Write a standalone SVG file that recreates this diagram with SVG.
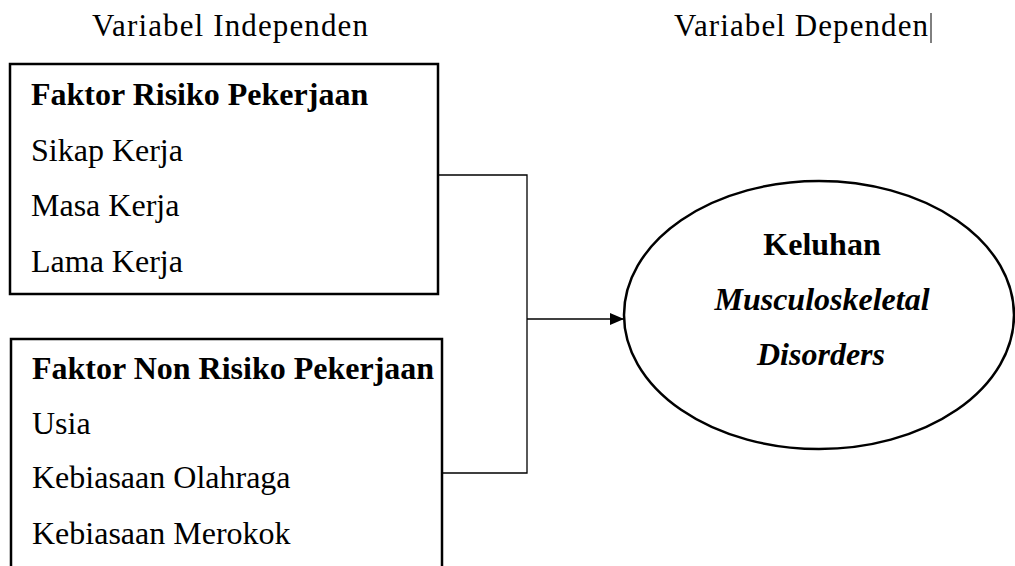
<svg xmlns="http://www.w3.org/2000/svg" width="1015" height="566" viewBox="0 0 1015 566">
<defs>
<style>
text{font-family:"Liberation Serif","Times New Roman",serif;font-size:32px;fill:#000}
.h{font-size:31px}
.b{font-weight:bold}
.bi{font-weight:bold;font-style:italic}
.c{text-anchor:middle}
.box{fill:#fff;stroke:#000;stroke-width:2.5}
.con{fill:none;stroke:#000;stroke-width:1.3}
</style>
<marker id="arr" markerWidth="14" markerHeight="12" refX="14" refY="6" orient="auto" markerUnits="userSpaceOnUse">
<path d="M0,0 L14,6 L0,12 Z" fill="#000"/>
</marker>
</defs>
<rect width="1015" height="566" fill="#fff"/>
<g id="headers">
<text class="h" x="92" y="36" textLength="276" lengthAdjust="spacing">Variabel Independen</text>
<text class="h" x="674" y="36" textLength="254" lengthAdjust="spacing">Variabel Dependen</text>
<line x1="931" y1="13" x2="931" y2="43" stroke="#000" stroke-width="1"/>
</g>
<g id="connectors">
<polyline class="con" points="438,175 527,175 527,473 442,473"/>
<line class="con" x1="527" y1="319" x2="624" y2="319" marker-end="url(#arr)"/>
</g>
<g id="node-risiko">
<rect class="box" x="10" y="64" width="428" height="230"/>
<text class="b" x="31" y="105">Faktor Risiko Pekerjaan</text>
<text x="31" y="161">Sikap Kerja</text>
<text x="31" y="216">Masa Kerja</text>
<text x="31" y="272">Lama Kerja</text>
</g>
<g id="node-nonrisiko">
<rect class="box" x="11" y="339" width="431" height="240"/>
<text class="b" x="32" y="379">Faktor Non Risiko Pekerjaan</text>
<text x="32" y="434">Usia</text>
<text x="32" y="488">Kebiasaan Olahraga</text>
<text x="32" y="544">Kebiasaan Merokok</text>
</g>
<g id="node-keluhan">
<ellipse cx="819" cy="315" rx="195" ry="134" fill="#fff" stroke="#000" stroke-width="2.5"/>
<text class="b c" x="822" y="255">Keluhan</text>
<text class="bi c" x="822" y="310">Musculoskeletal</text>
<text class="bi c" x="821" y="365">Disorders</text>
</g>
</svg>
